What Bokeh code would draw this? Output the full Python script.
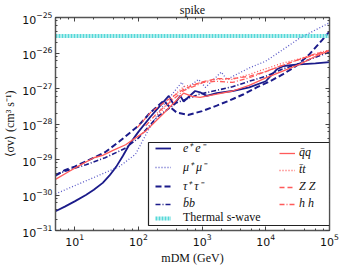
from bokeh.plotting import figure
from bokeh.models import (Legend, LegendItem, LogAxis, LogTicker,
                          BoxAnnotation, Range1d, CustomJSTickFormatter)
from bokeh.embed import file_html
from bokeh.resources import INLINE

# ---------------- data ----------------
ee_m = [5, 7, 10, 15, 20, 27.6, 35, 45, 57, 70, 85, 100, 155, 300, 360, 456, 513,
        778, 930, 1180, 1700, 3000, 5500, 10000, 15000, 19000, 30000, 60000, 100000]
ee_sv = [3.5e-31, 4.7e-31, 6.6e-31, 1.0e-30, 1.4e-30, 2.2e-30, 3.5e-30, 6.3e-30,
         1.26e-29, 2.4e-29, 4.0e-29, 6.0e-29, 1.6e-28, 6.2e-28, 3.5e-28, 6.2e-28, 4.3e-28,
         8.5e-28, 7.8e-28, 6.2e-28, 7.4e-28, 8.5e-28, 1.07e-27, 1.6e-27, 3.5e-27,
         4.3e-27, 4.7e-27, 5.1e-27, 5.5e-27]

mu_m = [5, 15, 50, 90, 150, 250, 480, 550, 880, 1130, 2000, 2450, 5500, 10000,
        18400, 33700, 60700, 100000]
mu_sv = [1.07e-30, 2.5e-30, 6.3e-30, 1.4e-29, 7.9e-29, 3.5e-28, 1.5e-27, 9.5e-28,
         1.8e-27, 1.07e-27, 2.9e-27, 1.8e-27, 3.8e-27, 5.9e-27, 1.23e-26, 2.6e-26,
         4.5e-26, 7.1e-26]

tau_m = [5, 7, 10, 20, 30, 50, 100, 150, 250, 300, 400, 600, 1000, 1700, 2700,
         4500, 7200, 11700, 18400, 30000, 47500, 76500, 100000]
tau_sv = [3.5e-30, 5.0e-30, 6.3e-30, 1.12e-29, 1.6e-29, 3.2e-29, 8.9e-29, 2.0e-28,
          4.5e-28, 3.2e-28, 2.1e-28, 1.8e-28, 2.3e-28, 3.3e-28, 4.6e-28, 6.9e-28,
          1.07e-27, 1.6e-27, 2.5e-27, 4.3e-27, 8.9e-27, 2.3e-26, 4.0e-26]

bb_m = [5, 8, 15, 30, 60, 100, 200, 400, 900, 1700, 3000, 5500, 10000, 18000,
        33000, 60000, 100000]
bb_sv = [3.8e-30, 5.0e-30, 7.1e-30, 1.12e-29, 2.0e-29, 4.0e-29, 1.6e-28, 4.0e-28,
         6.9e-28, 8.9e-28, 1.12e-27, 1.6e-27, 2.2e-27, 3.5e-27, 5.0e-27, 7.6e-27,
         1.05e-26]

qq_m = [5, 8, 12.6, 20, 27.5, 40, 63, 130, 250, 513, 700, 930, 1700, 3000, 5500,
        10000, 18400, 33700, 60700, 100000]
qq_sv = [2.75e-30, 4.5e-30, 7.2e-30, 1.12e-29, 1.3e-29, 1.8e-29, 2.6e-29, 6.3e-29,
         2.0e-28, 7.4e-28, 6.0e-28, 5.6e-28, 6.9e-28, 8.5e-28, 1.23e-27, 2.0e-27,
         3.1e-27, 4.8e-27, 8.1e-27, 1.17e-26]

tt_m = [200, 250, 360, 513, 1180, 1700, 3000, 5500, 10000, 18400, 33700, 60700, 100000]
tt_sv = [1.8e-28, 2.7e-28, 6.2e-28, 1.12e-27, 1.6e-27, 1.8e-27, 1.8e-27, 2.5e-27,
         3.6e-27, 5.2e-27, 6.8e-27, 9.5e-27, 1.23e-26]

zz_m = [96, 155, 280, 513, 930, 1700, 3000, 5500, 10000, 18400, 33700, 60700, 100000]
zz_sv = [7.9e-29, 2.1e-28, 4.6e-28, 9.5e-28, 1.48e-27, 1.9e-27, 1.9e-27, 2.2e-27,
         3.0e-27, 4.5e-27, 6.6e-27, 9.5e-27, 1.17e-26]

hh_m = [130, 200, 513, 1045, 1700, 3000, 5500, 10000, 18400, 33700, 60700, 100000]
hh_sv = [8.9e-29, 2.1e-28, 8.7e-28, 1.48e-27, 1.6e-27, 1.48e-27, 2.0e-27, 3.0e-27,
         4.5e-27, 6.6e-27, 8.9e-27, 1.17e-26]

thermal_m = [5, 100000]
thermal_sv = [3.0e-26, 3.0e-26]

labels_left = ["e\u207a e\u207b", "\u03bc\u207a \u03bc\u207b", "\u03c4\u207a \u03c4\u207b", "b\u0304b"]
labels_right = ["q\u0304q", "t\u0304t", "Z Z", "h h"]
thermal_label = "Thermal s-wave"
title_text = "spike"
x_label = "mDM (GeV)"
y_label = "\u27e8\u03c3v\u27e9 (cm\u00b3 s\u207b\u00b9)"

# ---------------- figure ----------------
W, H = 346, 267
BL, BR, BT, BB = 52, 17, 17, 34

p = figure(width=W, height=H, x_axis_type="log", y_axis_type="log",
           x_range=Range1d(5, 1e5), y_range=Range1d(1e-31, 1e-25),
           output_backend="svg", toolbar_location=None,
           min_border_left=BL, min_border_right=BR,
           min_border_top=BT, min_border_bottom=BB)
p.grid.visible = False
p.outline_line_color = "#222222"
p.outline_line_width = 1
p.background_fill_color = "white"
p.border_fill_color = "white"

p.title.text = title_text
p.title.align = "center"
p.title.text_font = "Liberation Serif"
p.title.text_font_size = "12px"
p.title.text_font_style = "normal"
p.title.text_color = "#111111"
p.title.standoff = 1
p.title.offset = 4

bottom_ax = p.below[0]
left_ax = p.left[0]
bottom_ax.ticker = LogTicker(desired_num_ticks=5)
left_ax.ticker = LogTicker(desired_num_ticks=7)

blank = CustomJSTickFormatter(code="return ''")
top_ax = LogAxis(ticker=LogTicker(desired_num_ticks=5), formatter=blank)
right_ax = LogAxis(ticker=LogTicker(desired_num_ticks=7), formatter=blank)
p.add_layout(top_ax, "above")
p.add_layout(right_ax, "right")

for ax in [bottom_ax, left_ax, top_ax, right_ax]:
    ax.major_tick_in = 4
    ax.major_tick_out = 0
    ax.minor_tick_in = 2
    ax.minor_tick_out = 0
    ax.axis_line_color = "#555555"
    ax.axis_line_width = 1.5
    ax.major_tick_line_color = "#444444"
    ax.minor_tick_line_color = "#444444"
    ax.major_label_text_font = "DejaVu Sans"
    ax.major_label_text_font_size = "11px"
    ax.major_label_text_color = "#111111"
    ax.major_label_standoff = 3

for ax in [top_ax, right_ax]:
    ax.major_label_standoff = 0

for ax, lab in [(bottom_ax, x_label), (left_ax, y_label)]:
    ax.axis_label = lab
    ax.axis_label_text_font = "Liberation Serif"
    ax.axis_label_text_font_size = "12px"
    ax.axis_label_text_font_style = "normal"
    ax.axis_label_text_color = "#111111"
    ax.axis_label_standoff = 2

NAVY = "#1b1b8a"
RED = "#ff5a5a"

r_ee = p.line(ee_m, ee_sv, color=NAVY, line_width=1.8)
r_mu = p.line(mu_m, mu_sv, color="#5a5ac8", line_width=1.3, line_dash="1 2")
r_tau = p.line(tau_m, tau_sv, color=NAVY, line_width=2, line_dash="6 3")
r_bb = p.line(bb_m, bb_sv, color=NAVY, line_width=1.6, line_dash="5 2 1 2")
r_qq = p.line(qq_m, qq_sv, color=RED, line_width=1.3)
r_tt = p.line(tt_m, tt_sv, color=RED, line_width=1.3, line_dash="1 2")
r_zz = p.line(zz_m, zz_sv, color=RED, line_width=1.3, line_dash="5 3")
r_hh = p.line(hh_m, hh_sv, color=RED, line_width=1.3, line_dash="5 2 1 2")
r_th = p.line(thermal_m, thermal_sv, color="#55d8d8", line_width=4, line_dash="2 1")

# legend frame
box = BoxAnnotation(left=93, right=274, bottom=5, top=88,
                    left_units="screen", right_units="screen",
                    top_units="screen", bottom_units="screen",
                    fill_color="white", fill_alpha=1.0,
                    line_color="#222222", line_width=1.2, line_alpha=1.0)
p.add_layout(box)

def mk_legend(items, loc, standoff, style):
    return Legend(items=items, location=loc, orientation="vertical",
                  background_fill_alpha=0, border_line_alpha=0,
                  padding=1, margin=0, spacing=2,
                  glyph_width=16, glyph_height=14, label_height=14,
                  label_standoff=standoff,
                  label_text_font="Liberation Serif",
                  label_text_font_size="12px",
                  label_text_font_style=style,
                  label_text_color="#111111")

leg1 = mk_legend([LegendItem(label=labels_left[i], renderers=[r])
                  for i, r in enumerate([r_ee, r_mu, r_tau, r_bb])],
                 (99, 18), 12, "italic")
leg2 = mk_legend([LegendItem(label=labels_right[i], renderers=[r])
                  for i, r in enumerate([r_qq, r_tt, r_zz, r_hh])],
                 (223, 18), 4, "italic")
leg3 = mk_legend([LegendItem(label=thermal_label, renderers=[r_th])],
                 (99, 4), 12, "normal")
for lg in (leg1, leg2, leg3):
    p.add_layout(lg)

open("out.html", "w").write(file_html(p, INLINE))
